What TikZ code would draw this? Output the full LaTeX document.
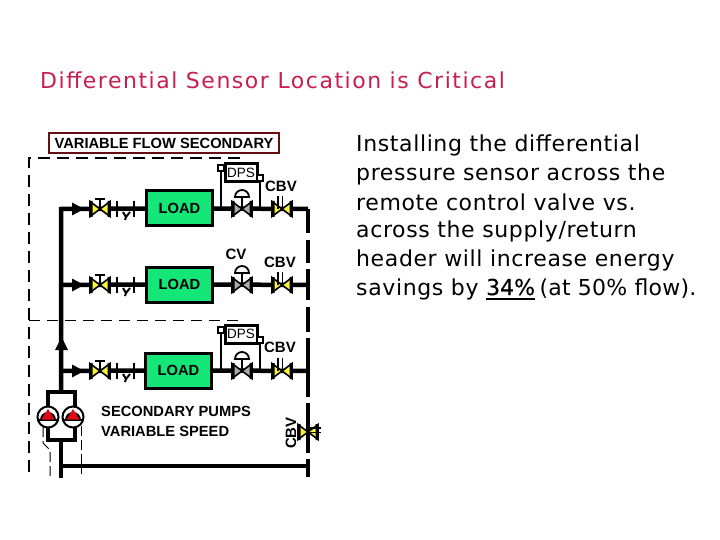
\documentclass[tikz,border=0pt]{standalone}
\usepackage{fontspec}
\setmainfont{DejaVu Sans}
\newfontfamily\diagfont{Liberation Sans}
\newfontfamily\titlefont[LetterSpace=6.9]{DejaVu Sans}
\newfontfamily\bodyfont[LetterSpace=2.8]{DejaVu Sans}
\newfontfamily\tightfont[LetterSpace=1]{DejaVu Sans}
\newfontfamily\markfont[FakeBold=0.4]{DejaVu Sans}
\usetikzlibrary{arrows.meta}
\definecolor{titlered}{RGB}{200,30,80}
\definecolor{loadgreen}{RGB}{20,230,120}
\definecolor{boxred}{RGB}{100,15,20}
\definecolor{valvegray}{RGB}{170,170,170}
\definecolor{valveyellow}{RGB}{250,245,60}
\definecolor{pumpred}{RGB}{225,10,20}
\newcommand{\markednum}[1]{\setbox0\hbox{\markfont #1}\rlap{\rule[-4.5pt]{\wd0}{2pt}}\box0}
\tikzset{
	pipe/.style={line width=4.5pt},
	signal/.style={line width=1.8pt,dash pattern=on 12pt off 7pt},
	thinsignal/.style={line width=1pt,dash pattern=on 11pt off 7pt},
	loadbox/.style={draw,line width=3pt,fill=loadgreen,minimum width=66pt,minimum height=35pt,inner sep=0pt,font=\diagfont\bfseries\fontsize{14.7}{14.7}\selectfont},
	dpsbox/.style={draw,line width=3pt,fill=white,minimum width=32pt,minimum height=18pt,inner sep=0pt,font=\diagfont\fontsize{13.5}{13.5}\selectfont},
	tagbox/.style={draw,line width=1.2pt,fill=white,minimum width=6pt,minimum height=6pt,inner sep=0pt},
	tagtext/.style={inner sep=0pt,font=\diagfont\bfseries\fontsize{15}{15}\selectfont},
	pumptext/.style={inner sep=0pt,anchor=west,font=\diagfont\bfseries\fontsize{14.7}{14.7}\selectfont},
	pagetext/.style={inner sep=0pt,anchor=west,font=\bodyfont\fontsize{22}{22}\selectfont},
	pics/bowvalve/.style={code={
		\fill[#1] (-10,-7.5) -- (10,7.5) -- (10,-7.5) -- (-10,7.5) -- cycle;
		\draw[line width=1.6pt,line join=miter] (-10,-7.5) -- (10,7.5) -- (10,-7.5) -- (-10,7.5) -- cycle;
		\fill (-10.5,-8) rectangle (-7.5,8) (7.5,-8) rectangle (10.5,8);
	}},
	pics/handvalve/.style={code={
		\pic {bowvalve=valveyellow};
		\draw[line width=2pt] (0,0) -- (0,-10) (-5,-10) -- (5,-10);
	}},
	pics/ctrlvalve/.style={code={
		\pic {bowvalve=valvegray};
		\draw[line width=1.8pt] (0,0) -- (0,-12);
		\draw[line width=1.8pt,fill=white] (-7,-12) arc[start angle=180,end angle=360,radius=7] -- cycle;
	}},
	pics/balvalve/.style={code={
		\pic {bowvalve=valveyellow};
		\draw[line width=1.8pt] (-4,0) -- (-4,-13) (0.5,0) -- (0.5,-13);
	}},
	pics/strainer/.style={code={
		\draw[line width=1.5pt] (-8,-8) -- (-8,8) (9,-8) -- (9,8);
		\draw[line width=2pt] (-2,3) -- (1,8) (5,3) -- (1,8) -- (0,11);
	}},
	pics/pumpsym/.style={code={
		\draw[line width=2pt,fill=white] (0,0) circle (10.5);
		\fill (-8,3) arc[start angle=180,end angle=360,radius=8] -- cycle;
		\draw[line width=1.2pt] (-10,3) -- (10,3);
		\fill[pumpred] (-6.5,2.5) -- (0,-8) -- (6.5,2.5) -- cycle;
	}},
}
\begin{document}
\begin{tikzpicture}[x=1pt,y=-1pt]
	\useasboundingbox (0,0) rectangle (720,540);
	% title and side text
	\node[pagetext,font=\titlefont\fontsize{22}{22}\selectfont,text=titlered] (title) at (40,80) {Differential Sensor Location is Critical};
	\node[pagetext] (lineA) at (356,145) {Installing the differential};
	\node[pagetext] (lineB) at (356,174) {pressure sensor across the};
	\node[pagetext] (lineC) at (356,202) {remote control valve vs.};
	\node[pagetext] (lineD) at (356,231) {across the supply/return};
	\node[pagetext] (lineE) at (356,260) {header will increase energy};
	\node[pagetext] (lineF) at (356,289) {savings by \markednum{34\%}\hspace{-3pt} {\tightfont (at 50\% flow).}};
	% heading
	\node[draw=boxred,line width=2pt,minimum width=230pt,minimum height=20pt,inner sep=0pt,font=\diagfont\bfseries\fontsize{14.7}{14.7}\selectfont] (heading) at (164,143) {VARIABLE FLOW SECONDARY};
	% loads
	\node[loadbox] (loadA) at (179.5,208.5) {LOAD};
	\node[loadbox] (loadB) at (179.5,284.5) {LOAD};
	\node[loadbox] (loadC) at (178.5,370.5) {LOAD};
	% sensors
	\node[dpsbox] (dpsA) at (241,173) {DPS};
	\node[dpsbox] (dpsC) at (241,334) {DPS};
	\node[tagbox] (tapAl) at (221,168) {};
	\node[tagbox] (tapAr) at (260,178) {};
	\node[tagbox] (tapCl) at (221,330) {};
	\node[tagbox] (tapCr) at (260,340) {};
	% pipe ends
	\coordinate (mainA) at (61,209);
	\coordinate (mainB) at (61,285);
	\coordinate (mainC) at (61,371);
	\coordinate (retA) at (308,209);
	\coordinate (retB) at (308,285);
	\coordinate (retC) at (308,371);
	\coordinate (mainTop) at (61,392);
	\coordinate (mainLow) at (61,440);
	\coordinate (mainEnd) at (61,478);
	\coordinate (retLow) at (61,466);
	\coordinate (retEnd) at (308,466);
	% signal lines
	\coordinate (sigTop) at (240,158);
	\coordinate (sigCorner) at (29,158);
	\coordinate (sigEnd) at (29,478);
	\coordinate (sigMid) at (29,320);
	\coordinate (sigMidEnd) at (240,320);
	\draw[signal] (sigTop) -- (sigCorner) -- (sigEnd);
	\draw[thinsignal] (sigMid) -- (sigMidEnd);
	% pipes
	\draw[pipe] (mainEnd) -- (mainLow);
	\draw[pipe] (mainTop) -- (mainA) -- (loadA.west);
	\draw[pipe] (mainB) -- (loadB.west);
	\draw[pipe] (mainC) -- (loadC.west);
	\draw[pipe] (loadA.east) -- (retA);
	\draw[pipe] (loadB.east) -- (retB);
	\draw[pipe] (loadC.east) -- (retC);
	\draw[pipe] (retLow) -- (retEnd);
	\draw[line width=3.5pt] (mainLow) -- (48,440) -- (48,392) -- (75,392) -- (75,440) -- cycle;
	% return riser with its gaps
	\draw[pipe] (retA) -- (308,233) (308,240) -- (308,263) (308,269) -- (308,300) (308,307) -- (308,332) (308,338) -- (308,397) (308,403) -- (308,453) (308,459) -- (308,477);
	% sensor tappings
	\draw[line width=2pt] (tapAl) -- (221,209) (tapAr) -- (260,209);
	\draw[line width=2pt] (tapCl) -- (221,371) (tapCr) -- (260,371);
	\draw[line width=1pt,dash pattern=on 10pt off 4pt] (43,427) -- (43,443) -- (50,450) -- (50,478);
	\draw[line width=1pt,dash pattern=on 10pt off 4pt] (81,426) -- (81,474);
	% flow arrows
	\foreach \arrowy in {209,285,371}
		\fill (72,\arrowy-6.5) -- (84,\arrowy) -- (72,\arrowy+6.5) -- cycle;
	\fill (55,350) -- (61.5,337) -- (68,350) -- cycle;
	% valves
	\foreach \rowy in {209,285,371}{
		\pic at (100,\rowy) {handvalve};
		\pic at (125,\rowy) {strainer};
		\pic at (242,\rowy) {ctrlvalve};
		\pic at (282,\rowy) {balvalve};
	}
	\pic[rotate=-90] at (308,432) {balvalve};
	\pic at (48,417) {pumpsym};
	\pic at (73,417) {pumpsym};
	% labels
	\node[tagtext] (cbvA) at (281,186) {CBV};
	\node[tagtext] (cvB) at (236,254) {CV};
	\node[tagtext] (cbvB) at (280,262) {CBV};
	\node[tagtext] (cbvC) at (280,347) {CBV};
	\node[tagtext,rotate=90] (cbvD) at (291,433) {CBV};
	\node[pumptext] (pumpsA) at (101,411) {SECONDARY PUMPS};
	\node[pumptext] (pumpsB) at (101,431) {VARIABLE SPEED};
\end{tikzpicture}
\end{document}
